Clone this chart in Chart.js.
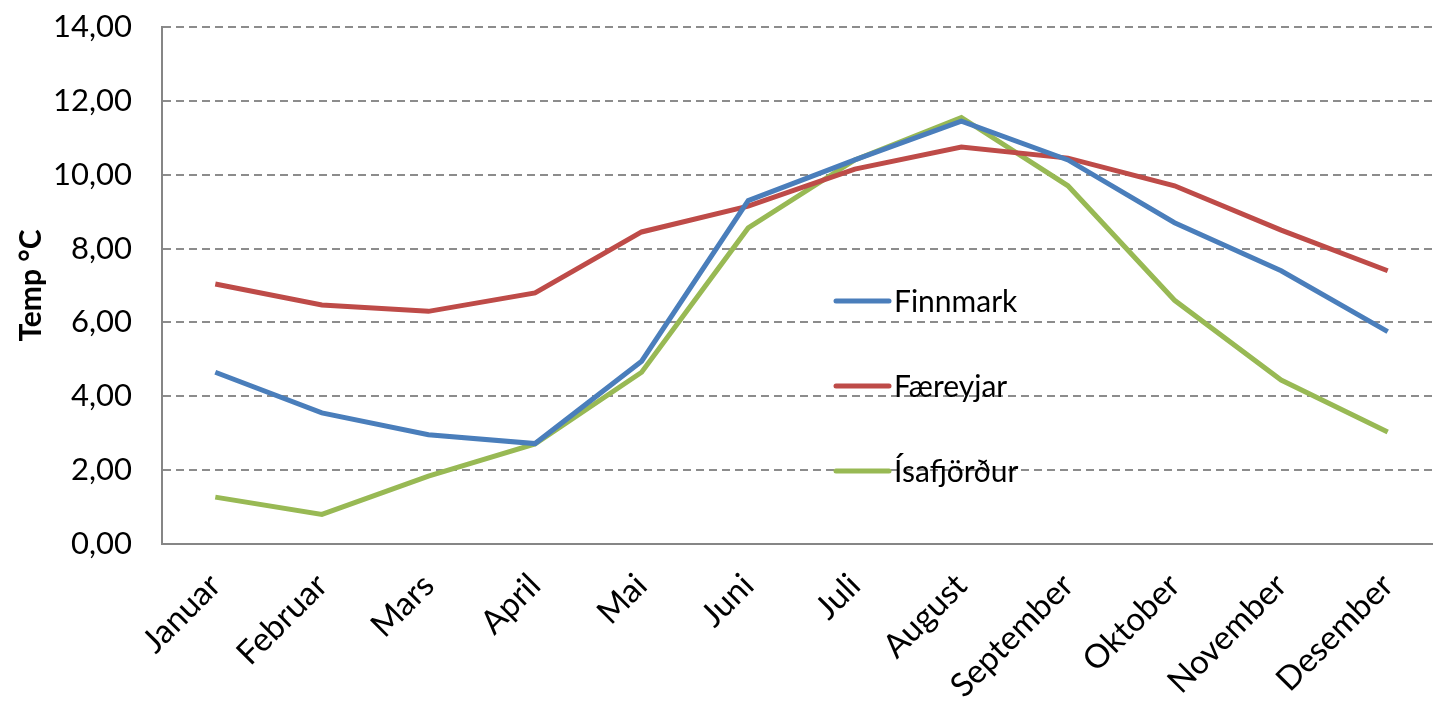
<!DOCTYPE html>
<html>
<head>
<meta charset="utf-8">
<script src="https://cdn.jsdelivr.net/npm/chart.js@4/dist/chart.umd.min.js"></script>
<style>
  html, body { margin: 0; padding: 0; background: #fff; overflow: hidden; }
  #wrap { position: relative; width: 1433px; height: 709px; overflow: hidden; }
</style>
</head>
<body>
<div id="wrap"><canvas id="c" width="1441" height="709"></canvas></div>
<script>
const months = ["Januar","Februar","Mars","April","Mai","Juni","Juli","August","September","Oktober","November","Desember"];
const seriesNames = ["Finnmark","Færeyjar","Ísafjörður"];
const finnmark = [4.65, 3.55, 2.96, 2.72, 4.95, 9.30, 10.40, 11.45, 10.40, 8.70, 7.40, 5.75];
const faereyjar = [7.04, 6.47, 6.30, 6.80, 8.45, 9.15, 10.15, 10.75, 10.45, 9.70, 8.50, 7.40];
const isafjordur = [1.27, 0.80, 1.84, 2.71, 4.65, 8.56, 10.40, 11.55, 9.70, 6.60, 4.44, 3.03];
const yTicks = [0, 2, 4, 6, 8, 10, 12, 14];
const colors = ["#4A7EBB", "#BE4B48", "#98B954"];
const FONT = "Lato, 'Open Sans', sans-serif";

const legendPlugin = {
  id: 'insideLegend',
  afterDraw(chart) {
    const ctx = chart.ctx;
    const items = chart.data.datasets;
    const x0 = 836, x1 = 889;
    const ys = [301, 386, 471];
    ctx.save();
    items.forEach((ds, i) => {
      ctx.strokeStyle = ds.borderColor;
      ctx.lineWidth = 5;
      ctx.lineCap = 'round';
      ctx.beginPath();
      ctx.moveTo(x0, ys[i]);
      ctx.lineTo(x1, ys[i]);
      ctx.stroke();
      ctx.fillStyle = '#000';
      ctx.font = "30px " + FONT;
      ctx.textBaseline = 'middle';
      ctx.textAlign = 'left';
      ctx.fillText(ds.label, 894, ys[i] + 1);
    });
    ctx.restore();
  }
};

new Chart(document.getElementById('c'), {
  type: 'line',
  data: {
    labels: months,
    datasets: [
      { label: seriesNames[0], data: finnmark, borderColor: colors[0] },
      { label: seriesNames[1], data: faereyjar, borderColor: colors[1] },
      { label: seriesNames[2], data: isafjordur, borderColor: colors[2] }
    ].map(d => Object.assign(d, { borderWidth: 5, pointRadius: 0, pointHoverRadius: 0, fill: false, tension: 0, backgroundColor: d.borderColor }))
  },
  options: {
    responsive: false,
    animation: false,
    events: [],
    layout: { padding: { top: 27, right: 0, left: 0, bottom: 0 } },
    plugins: { legend: { display: false }, tooltip: { enabled: false } },
    scales: {
      x: {
        offset: true,
        grid: { display: false, drawTicks: false },
        border: { display: true, color: '#868686', width: 2 },
        ticks: {
          autoSkip: false, maxRotation: 45, minRotation: 45,
          color: '#000', font: { family: FONT, size: 33 }, padding: 22
        },
        afterFit(scale) { scale.height = 165; scale.paddingRight = 0; }
      },
      y: {
        min: 0, max: 14,
        afterBuildTicks(scale) { scale.ticks = yTicks.map(v => ({ value: v })); },
        grid: { color: '#8c8c8c', lineWidth: 2, drawTicks: false },
        border: { display: true, color: '#868686', width: 2, dash: [8, 5] },
        ticks: {
          color: '#000', font: { family: FONT, size: 31 }, padding: 30,
          callback: (v) => Number(v).toFixed(2).replace('.', ',')
        },
        title: { display: true, text: 'Temp °C', color: '#000', font: { family: FONT, size: 30, weight: 'bold' }, padding: { top: 13, bottom: 0 } },
        afterFit(scale) { scale.width = 162; scale.paddingTop = 0; scale.paddingBottom = 0; }
      }
    }
  },
  plugins: [legendPlugin]
});
</script>
</body>
</html>
